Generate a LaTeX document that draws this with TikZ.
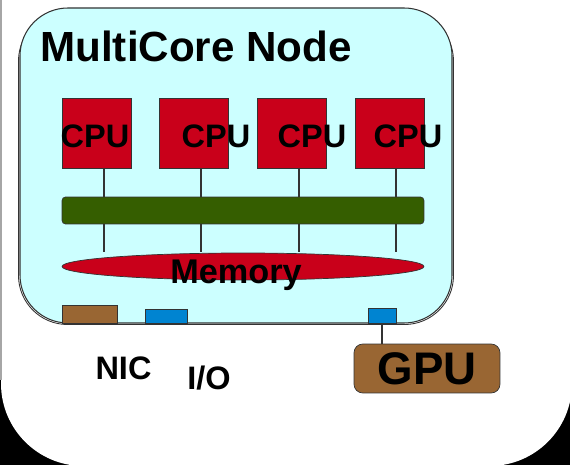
\documentclass[tikz,border=0pt]{standalone}
\usepackage{fontspec}
\setmainfont{Liberation Sans}
\usetikzlibrary{shapes.geometric}

\definecolor{nodecyan}{HTML}{CCFFFF}
\definecolor{cpured}{HTML}{C9001A}
\definecolor{busgreen}{HTML}{355E00}
\definecolor{portbrown}{HTML}{996633}
\definecolor{portblue}{HTML}{0084D1}
\definecolor{edgegray}{HTML}{333333}

\begin{document}
\begin{tikzpicture}[x=0.02cm, y=-0.02cm,
    cpubox/.style={draw=edgegray, fill=cpured, minimum width=1.38cm, minimum height=1.4cm, inner sep=0pt},
    port/.style={draw=edgegray, inner sep=0pt},
    bigtext/.style={font=\bfseries\fontsize{18.5}{22}\selectfont, inner sep=0pt},
    wire/.style={draw=edgegray, line width=0.6pt}]

    \useasboundingbox (0,0) rectangle (570,465);

    % Hintergrund
    \fill[black] (0,0) rectangle (570,465);
    \fill[white, rounded corners=1.65cm] (1,-80) rectangle (572,466);
    \draw[gray!70, line width=1pt] (1,0) -- (1,380);

    % Knoten-Gehaeuse
    \draw[edgegray, line width=0.5pt, rounded corners=0.98cm] (18.5,12) rectangle (453.5,324.5);
    \filldraw[fill=nodecyan, draw=edgegray, line width=0.6pt, rounded corners=0.96cm] (20,8) rectangle (452,323);
    \node[font=\bfseries\fontsize{24}{28}\selectfont, inner sep=0pt, anchor=base west] (title) at (40,62) {MultiCore Node};

    % CPUs
    \node[cpubox] (cpu1) at (96.5,133) {};
    \node[cpubox] (cpu2) at (194,133) {};
    \node[cpubox] (cpu3) at (291.5,133) {};
    \node[cpubox] (cpu4) at (389.5,133) {};

    \node[bigtext, anchor=base] (cpu1txt) at (95,148) {CPU};
    \node[bigtext, anchor=base] (cpu2txt) at (216,148) {CPU};
    \node[bigtext, anchor=base] (cpu3txt) at (312,148) {CPU};
    \node[bigtext, anchor=base] (cpu4txt) at (408,148) {CPU};

    % Bus und Speicher
    \node[draw=edgegray, fill=busgreen, rounded corners=2pt, minimum width=7.24cm, minimum height=0.54cm, inner sep=0pt] (bus) at (243,210.5) {};
    \node[ellipse, draw=edgegray, fill=cpured, minimum width=7.24cm, minimum height=0.54cm, inner sep=0pt] (mem) at (243,266.5) {};
    \node[bigtext, font=\bfseries\fontsize{19.5}{23}\selectfont, anchor=base] (memtxt) at (236,283) {Memory};

    % Leitungen
    \coordinate (tap1) at (104,168);
    \coordinate (tap2) at (201,168);
    \coordinate (tap3) at (299,168);
    \coordinate (tap4) at (396,168);
    \foreach \i in {1,...,4} {
        \draw[wire] (tap\i) -- (tap\i |- bus.north);
        \draw[wire] (bus.south -| tap\i) -- ([yshift=0.02cm]mem.north -| tap\i);
    }

    % Anschluesse
    \node[port, fill=portbrown, minimum width=1.1cm, minimum height=0.36cm] (nic) at (89.5,314) {};
    \node[port, fill=portblue, minimum width=0.84cm, minimum height=0.28cm] (io) at (166,316) {};
    \node[port, fill=portblue, minimum width=0.56cm, minimum height=0.3cm] (gpuport) at (382,315.5) {};

    \node[bigtext, anchor=base] (nictxt) at (123.5,379) {NIC};
    \node[bigtext, anchor=base] (iotxt) at (209,389) {I/O};

    % GPU
    \node[draw=edgegray, fill=portbrown, rounded corners=5pt, minimum width=2.92cm, minimum height=0.98cm, inner sep=0pt,
          font=\bfseries\fontsize{26}{30}\selectfont] (gpu) at (427,368.5) {GPU};
    \draw[wire] (gpuport.south) -- (gpuport.south |- gpu.north);

\end{tikzpicture}
\end{document}
